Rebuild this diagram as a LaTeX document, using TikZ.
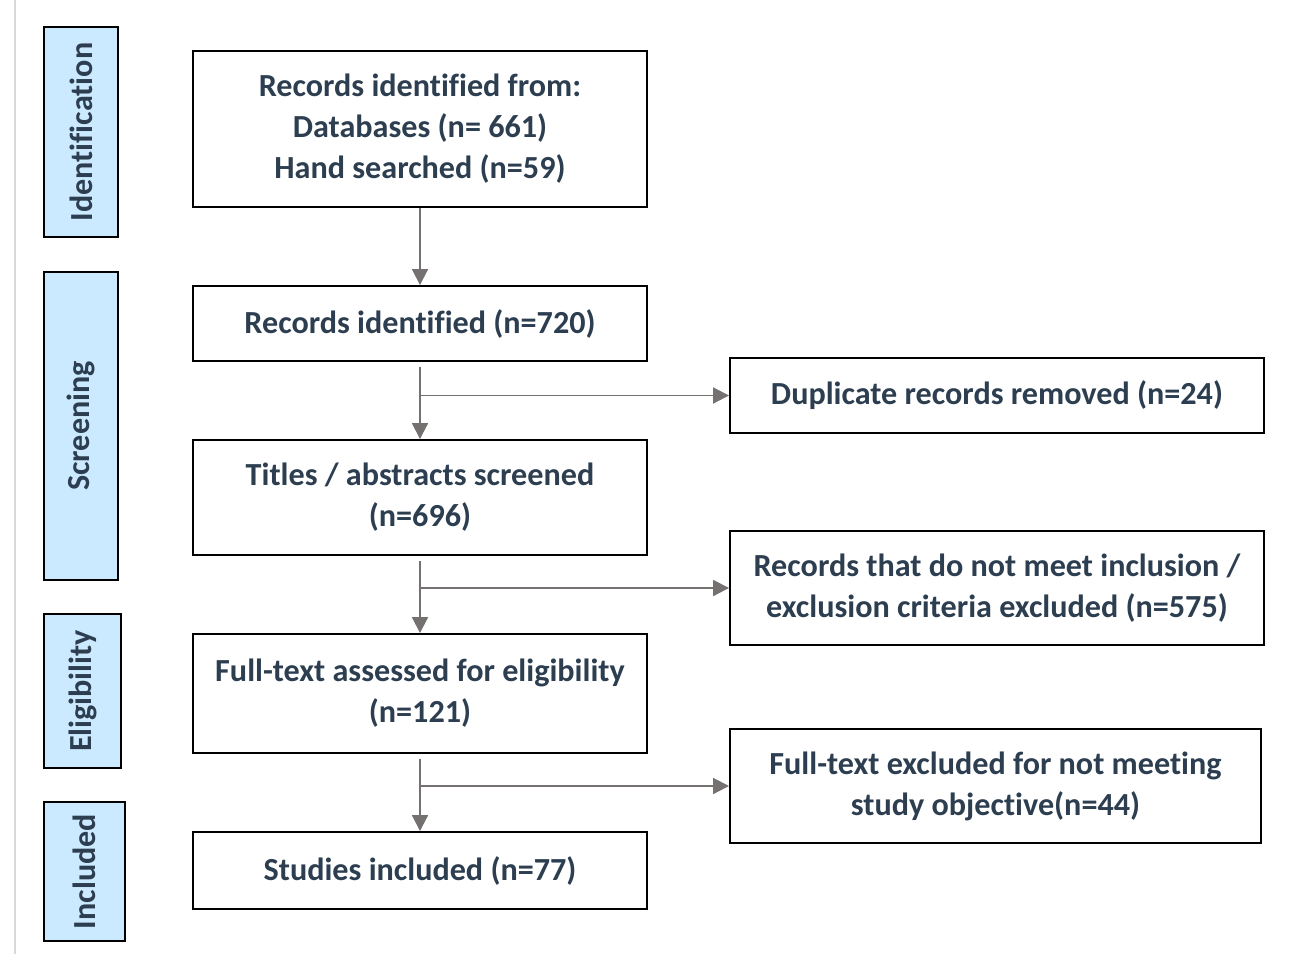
\documentclass[tikz,border=0pt]{standalone}
\usepackage{fontspec}
\setmainfont{Carlito}[Ligatures=NoCommon]
\usetikzlibrary{arrows.meta, positioning}
\usepackage{xcolor}
\definecolor{txt}{HTML}{2C3E50}
\definecolor{arrgray}{HTML}{767171}
\definecolor{stage}{HTML}{CCEAFF}

\begin{document}
\begin{tikzpicture}[auto, >={Triangle[length=9pt, width=9pt]}]
	\tikzstyle{box} = [draw=black, line width=1.1pt, text=txt, font=\fontsize{18.3}{23.3}\selectfont\bfseries, align=center, inner sep=0pt]
	\tikzstyle{main} = [box, minimum width=9.08cm]
	\tikzstyle{side} = [box, fill=stage, rotate=90]
	\tikzstyle{excl} = [box, minimum width=10.68cm, minimum height=2.28cm]
	\tikzstyle{arr} = [arrgray, line width=1.1pt]
	
	\useasboundingbox (0,0) rectangle (26.28,-19.08);
	\draw[black!15, line width=0.6pt] (0.3,0) -- (0.3,-19.08);
	
	% stages
	\node[side, minimum width=4.2cm, minimum height=1.48cm]		at (1.62,-2.64)		(ident)	{Identification};
	\node[side, minimum width=6.16cm, minimum height=1.48cm]	at (1.62,-8.52)		(screen)	{Screening};
	\node[side, minimum width=3.08cm, minimum height=1.54cm]	at (1.65,-13.82)	(elig)	{Eligibility};
	\node[side, minimum width=2.78cm, minimum height=1.62cm]	at (1.69,-17.43)	(incl)	{Included};
	
	% flow
	\node[main, minimum height=3.12cm]	at (8.4,-2.58)	(recs)	{Records identified from:\\Databases (n= 661)\\Hand searched (n=59)};
	\node[main, minimum height=1.5cm]	at (8.4,-6.47)	(total)	{Records identified (n=720)};
	\node[main, minimum height=2.3cm]	at (8.4,-9.95)	(titles)	{Titles / abstracts screened\\(n=696)};
	\node[main, minimum height=2.38cm]	at (8.4,-13.87)	(full)	{Full-text assessed for eligibility\\(n=121)};
	\node[main, minimum height=1.54cm]	at (8.4,-17.41)	(studies)	{Studies included (n=77)};
	
	% exclusions
	\node[excl, minimum height=1.5cm]	at (19.94,-7.91)	(dup)	{Duplicate records removed (n=24)};
	\node[excl]							at (19.94,-11.76)	(crit)	{Records that do not meet inclusion /\\exclusion criteria excluded (n=575)};
	\node[excl, minimum width=10.62cm]	at (19.91,-15.72)	(obj)	{Full-text excluded for not meeting\\study objective(n=44)};
	
	\path[->, arr]
	(recs)						edge	(total)
	([yshift=-0.1cm]total.south)	edge	(titles)
	(total.south |- dup.west)		edge	(dup.west)
	([yshift=-0.1cm]titles.south)	edge	(full)
	(titles.south |- crit.west)		edge	(crit.west)
	([yshift=-0.1cm]full.south)		edge	(studies)
	(full.south |- obj.west)		edge	(obj.west);
\end{tikzpicture}
\end{document}
